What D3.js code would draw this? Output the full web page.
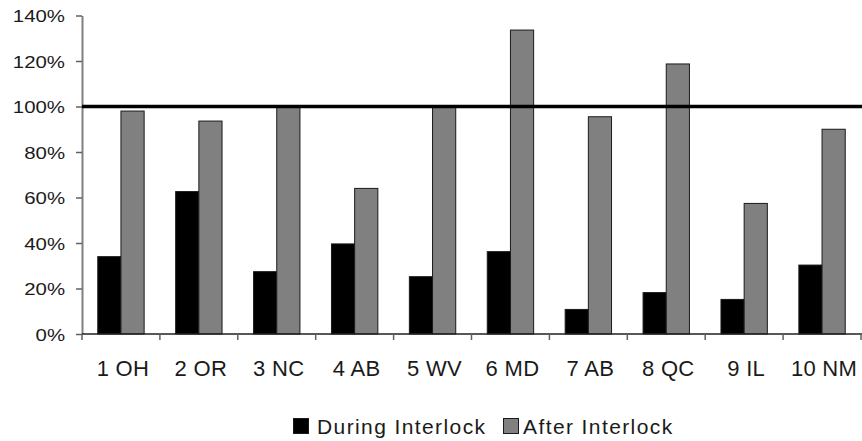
<!DOCTYPE html>
<html>
<head>
<meta charset="utf-8">
<script src="https://cdn.jsdelivr.net/npm/d3@7"></script>
<style>
  html, body { margin: 0; padding: 0; background: #fff; }
  svg { display: block; font-family: "Liberation Sans", Arial, sans-serif; }
</style>
</head>
<body>
<svg id="chart" width="862" height="441"></svg>
<script>
// Sites and their interlock percentages
const categories = ["1 OH", "2 OR", "3 NC", "4 AB", "5 WV", "6 MD", "7 AB", "8 QC", "9 IL", "10 NM"];
const seriesNames = ["During Interlock", "After Interlock"];
const duringValues = [34, 62.6, 27.4, 39.6, 25.2, 36.2, 10.8, 18.2, 15.2, 30.3];
const afterValues = [98, 93.6, 100, 64, 100, 133.6, 95.5, 118.7, 57.4, 90];
const yTickValues = [0, 20, 40, 60, 80, 100, 120, 140];
const referenceValue = 100;

const seriesColors = { "During Interlock": "#000000", "After Interlock": "#808080" };

const svg = d3.select("#chart");
const plot = { left: 82, right: 861, top: 15.5, bottom: 334 };

const rows = categories.map((c, i) => ({
  category: c,
  values: [
    { series: seriesNames[0], value: duringValues[i] },
    { series: seriesNames[1], value: afterValues[i] }
  ]
}));

const x0 = d3.scaleBand().domain(categories).range([plot.left, plot.right]).padding(0);
const x1 = d3.scaleBand().domain(seriesNames).range([0, x0.bandwidth()]).paddingInner(0).paddingOuter(0.68);
const y = d3.scaleLinear().domain([0, 140]).range([plot.bottom, plot.top]);

// Bars
svg.append("g")
  .selectAll("g")
  .data(rows)
  .join("g")
  .attr("transform", d => `translate(${x0(d.category)},0)`)
  .selectAll("rect")
  .data(d => d.values)
  .join("rect")
  .attr("x", d => x1(d.series))
  .attr("y", d => y(d.value))
  .attr("width", x1.bandwidth())
  .attr("height", d => y(0) - y(d.value))
  .attr("fill", d => seriesColors[d.series])
  .attr("stroke", "#1a1a1a")
  .attr("stroke-width", 1);

// Y axis
const yScaleX = 1.2;
const yAxis = svg.append("g")
  .attr("transform", `translate(${plot.left},0)`)
  .call(d3.axisLeft(y).tickValues(yTickValues).tickFormat(d => d + "%").tickSize(6).tickSizeOuter(0));
yAxis.select(".domain").attr("stroke", "#808080").attr("stroke-width", 2);
yAxis.selectAll(".tick line").attr("stroke", "#606060").attr("stroke-width", 1.5);
yAxis.selectAll(".tick text")
  .attr("x", -17 / yScaleX)
  .attr("fill", "#1a1a1a")
  .style("font-size", "17px")
  .attr("transform", `scale(${yScaleX},1)`)
  .attr("dy", "0.36em");

// X axis baseline with boundary ticks
const xAxis = svg.append("g").attr("transform", `translate(0,${plot.bottom})`);
xAxis.append("line")
  .attr("x1", plot.left).attr("x2", plot.right + 1)
  .attr("stroke", "#202020").attr("stroke-width", 1.5);
const boundaries = categories.map(c => x0(c)).concat([x0(categories[categories.length - 1]) + x0.bandwidth()]);
xAxis.selectAll("line.bound")
  .data(boundaries)
  .join("line")
  .attr("class", "bound")
  .attr("x1", d => d).attr("x2", d => d)
  .attr("y1", 0).attr("y2", 6)
  .attr("stroke", "#606060").attr("stroke-width", 1.5);
xAxis.selectAll("text")
  .data(categories)
  .join("text")
  .attr("x", d => x0(d) + x0.bandwidth() / 2 + 2)
  .attr("y", 42)
  .attr("text-anchor", "middle")
  .attr("fill", "#1a1a1a")
  .style("font-size", "22px")
  .style("letter-spacing", "0.3px")
  .text(d => d);

// 100% reference line
svg.append("line")
  .attr("x1", plot.left).attr("x2", 862)
  .attr("y1", y(referenceValue)).attr("y2", y(referenceValue))
  .attr("stroke", "#000").attr("stroke-width", 3.5);

// Legend
const legend = svg.append("g").attr("transform", "translate(293,418)");
const legendOffsets = [0, 210];
const legendTextX = [24, 20];
seriesNames.forEach((name, i) => {
  const g = legend.append("g").attr("transform", `translate(${legendOffsets[i]},0)`);
  g.append("rect")
    .attr("x", 0.5).attr("y", 0.5)
    .attr("width", 15).attr("height", 15)
    .attr("fill", seriesColors[name])
    .attr("stroke", "#1a1a1a").attr("stroke-width", 1);
  g.append("text")
    .attr("x", legendTextX[i]).attr("y", 15.5)
    .attr("fill", "#1a1a1a")
    .style("font-size", "21px")
    .style("letter-spacing", "1.4px")
    .text(name);
});
</script>
</body>
</html>
